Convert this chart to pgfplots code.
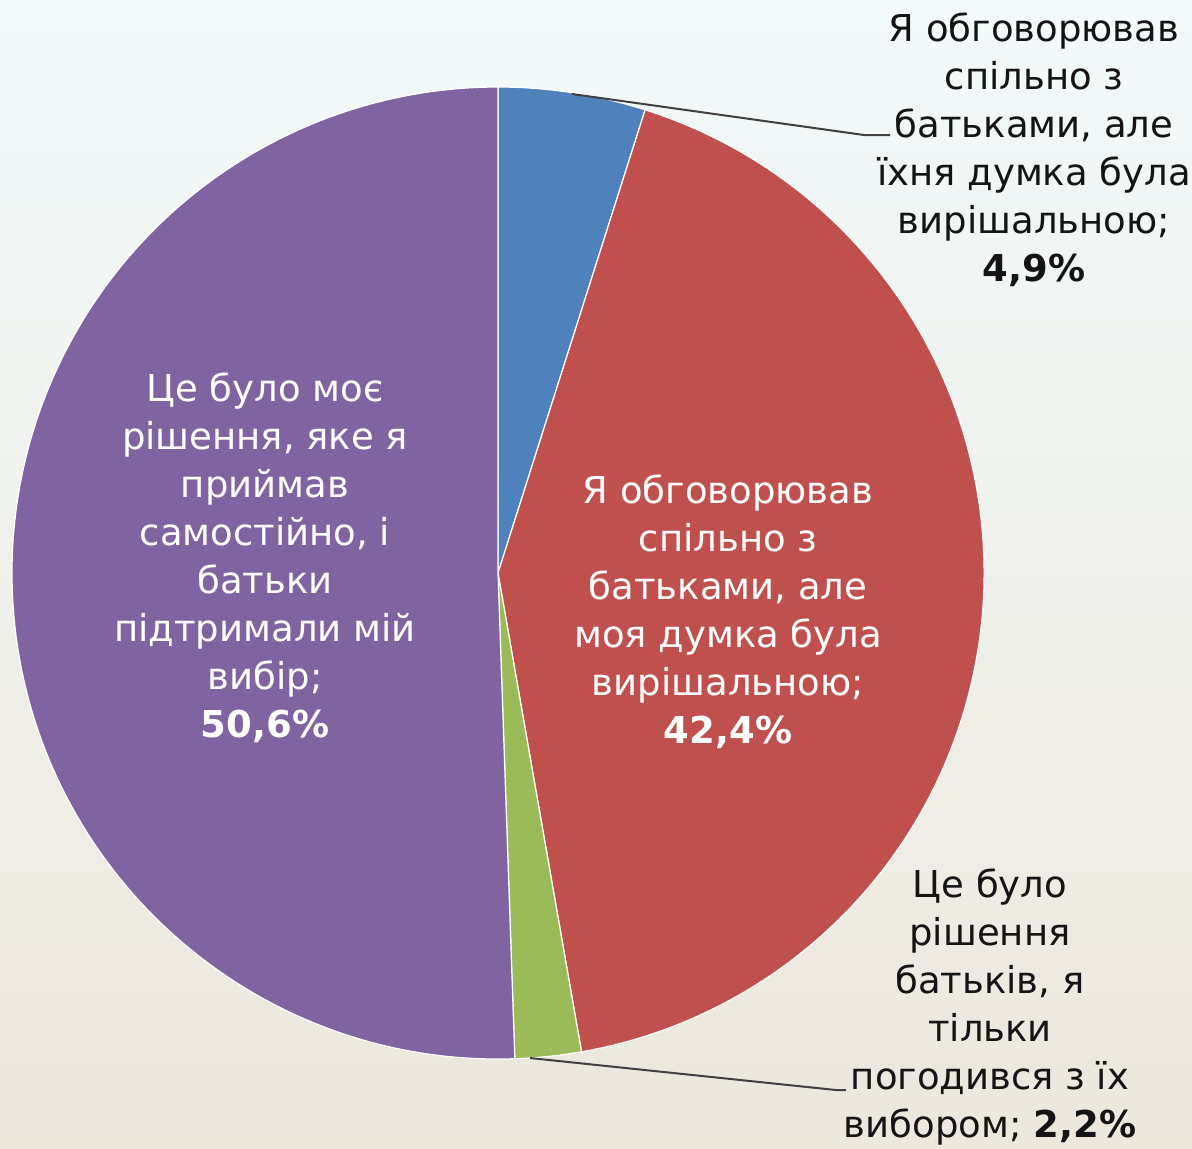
\documentclass[border=0pt]{standalone}
\usepackage{pgfplots}
\pgfplotsset{compat=1.18}
\usepackage{pgfplotstable}
\usepackage{fontspec}
\setmainfont{DejaVu Sans}
\definecolor{sliceblue}{HTML}{4F81BD}
\definecolor{slicered}{HTML}{C0504D}
\definecolor{slicegreen}{HTML}{9BBB59}
\definecolor{slicepurple}{HTML}{8064A2}
\definecolor{bgtop}{RGB}{242,250,251}
\definecolor{bgbot}{RGB}{237,231,220}
\definecolor{txt}{RGB}{20,20,20}
\pgfplotstableread{
value color
4.9 sliceblue
42.4 slicered
2.2 slicegreen
50.6 slicepurple
}\piedata
\newcommand\lblfont{\fontsize{18.5}{24}\selectfont}
\begin{document}
\begin{tikzpicture}
\begin{axis}[width=596pt, height=574pt, scale only axis,
  xmin=0, xmax=1192, ymin=0, ymax=1148, y dir=reverse,
  hide axis, clip=false]
\fill[top color=bgtop, bottom color=bgbot] (axis cs:0,0) rectangle (axis cs:1192,1148);
\def\startang{90}
\pgfplotsforeachungrouped \i in {0,...,3}{%
  \pgfplotstablegetelem{\i}{value}\of\piedata \let\val\pgfplotsretval
  \pgfplotstablegetelem{\i}{color}\of\piedata \let\col\pgfplotsretval
  \pgfmathsetmacro\endang{\startang - \val/100.1*360}%
  \edef\temp{\noexpand\fill[\col, draw=white, line width=0.6pt] (axis cs:498,573) -- ++(\startang:243pt) arc[start angle=\startang, end angle=\endang, radius=243pt] -- cycle;}%
  \temp
  \global\let\startang\endang
}
\draw[black!75, line width=1pt] (axis cs:572,94) -- (axis cs:864,135) -- (axis cs:890,135);
\draw[black!75, line width=1pt] (axis cs:530,1058) -- (axis cs:836,1090) -- (axis cs:846,1090);
\node[align=center, text=txt, font=\lblfont] at (axis cs:1034,150)
  {Я обговорював\\спільно з\\батьками, але\\їхня думка була\\вирішальною;\\\textbf{4,9\%}};
\node[align=center, text=white, font=\lblfont] at (axis cs:728,612)
  {Я обговорював\\спільно з\\батьками, але\\моя думка була\\вирішальною;\\\textbf{42,4\%}};
\node[align=center, text=white, font=\lblfont] at (axis cs:265,558)
  {Це було моє\\рішення, яке я\\приймав\\самостійно, і\\батьки\\підтримали мій\\вибір;\\\textbf{50,6\%}};
\node[align=center, text=txt, font=\lblfont] at (axis cs:990,1007)
  {Це було\\рішення\\батьків, я\\тільки\\погодився з їх\\вибором; \textbf{2,2\%}};
\end{axis}
\pgfresetboundingbox
\path (current axis.south west) rectangle (current axis.north east);
\end{tikzpicture}
\end{document}
